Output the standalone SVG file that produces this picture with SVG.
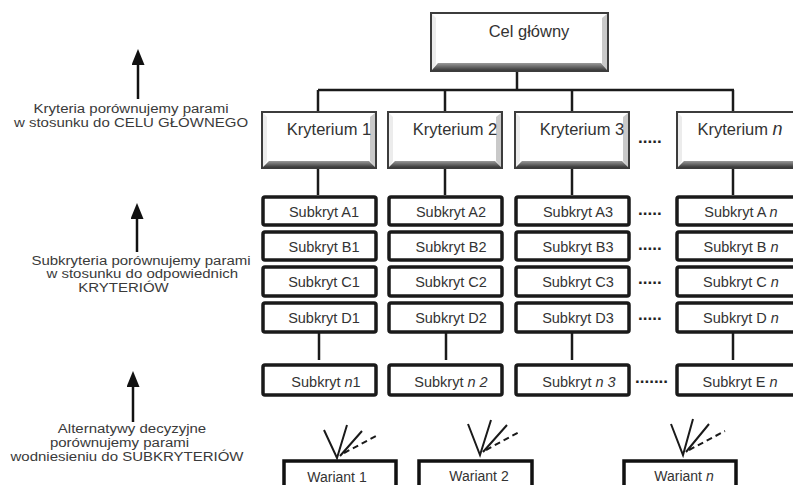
<svg xmlns="http://www.w3.org/2000/svg" width="793" height="485" viewBox="0 0 793 485">
  <defs>
    <linearGradient id="bevelBottom" x1="0" y1="0" x2="0" y2="1">
      <stop offset="0" stop-color="#9a9a9a"/>
      <stop offset="1" stop-color="#3e3e3e"/>
    </linearGradient>
    <marker id="arrowHead" viewBox="0 0 16 13" refX="1" refY="6.5" markerWidth="16" markerHeight="13" markerUnits="userSpaceOnUse" orient="auto">
      <path d="M0,0 L16,6.5 L0,13 Z" fill="#111"/>
    </marker>
    <style>
      text { font-family: "Liberation Sans", Arial, sans-serif; fill: #333; }
      .title { font-size: 16.5px; }
      .krit { font-size: 16.5px; text-anchor: middle; }
      .sub { font-size: 14.5px; text-anchor: middle; }
      .war { font-size: 14px; text-anchor: middle; }
      .side { font-size: 12px; text-anchor: middle; fill: #3a3a3a; }
      .dots { font-size: 17px; font-weight: bold; fill: #222; }
      .bevel-frame { fill: #fff; stroke: #3c3c3c; stroke-width: 2; }
      .bevel-left { fill: #ececec; }
      .bevel-right { fill: #c9c9c9; }
      .bevel-bottom { fill: url(#bevelBottom); }
      .subbox { fill: #fff; stroke: #1a1a1a; stroke-width: 3.5; }
      .varbox { fill: none; stroke: #111; stroke-width: 3.5; }
      .conn { stroke: #1a1a1a; stroke-width: 2.5; fill: none; }
      .fan { stroke: #1a1a1a; stroke-width: 2; fill: none; }
      .fan-dash { stroke: #1a1a1a; stroke-width: 2; fill: none; stroke-dasharray: 6 4; }
      .side-arrow { stroke: #111; stroke-width: 2.5; fill: none; }
      .it { font-style: italic; }
    </style>
  </defs>

  <rect width="793" height="485" fill="#fff"/>

  <!-- connectors of the hierarchy -->
  <g id="connectors">
    <line class="conn" x1="517" y1="71" x2="517" y2="90"/>
    <line class="conn" x1="318" y1="90" x2="734" y2="90"/>
    <line class="conn" x1="318" y1="90" x2="318" y2="111"/>
    <line class="conn" x1="445" y1="90" x2="445" y2="111"/>
    <line class="conn" x1="572" y1="90" x2="572" y2="111"/>
    <line class="conn" x1="733" y1="90" x2="733" y2="111"/>
    <line class="conn" x1="318" y1="169" x2="318" y2="195"/>
    <line class="conn" x1="445" y1="169" x2="445" y2="195"/>
    <line class="conn" x1="572" y1="169" x2="572" y2="195"/>
    <line class="conn" x1="733" y1="169" x2="733" y2="195"/>
    <line class="conn" x1="319" y1="333" x2="319" y2="360"/>
    <line class="conn" x1="446" y1="333" x2="446" y2="360"/>
    <line class="conn" x1="572" y1="333" x2="572" y2="360"/>
    <line class="conn" x1="733" y1="333" x2="733" y2="360"/>
  </g>

  <!-- goal -->
  <g id="cel-glowny">
    <rect class="bevel-frame" x="431" y="13" width="177" height="58"/>
    <polygon class="bevel-left" points="432,14 436,18 436,64 432,70"/>
    <polygon class="bevel-right" points="607,14 602,18 602,64 607,70"/>
    <polygon class="bevel-bottom" points="432,70 438,63 601,63 607,70"/>
    <text class="title" x="529" y="37" text-anchor="middle">Cel główny</text>
  </g>

  <!-- criteria -->
  <g id="kryterium-1" transform="translate(262,112)">
    <rect class="bevel-frame" x="0" y="0" width="114" height="56"/>
    <polygon class="bevel-left" points="1,1 5,5 5,49 1,55"/>
    <polygon class="bevel-right" points="113,1 108,5 108,49 113,55"/>
    <polygon class="bevel-bottom" points="1,55 7,49 107,49 113,55"/>
    <text class="krit" x="67" y="23">Kryterium 1</text>
  </g>
  <g id="kryterium-2" transform="translate(388,112)">
    <rect class="bevel-frame" x="0" y="0" width="114" height="56"/>
    <polygon class="bevel-left" points="1,1 5,5 5,49 1,55"/>
    <polygon class="bevel-right" points="113,1 108,5 108,49 113,55"/>
    <polygon class="bevel-bottom" points="1,55 7,49 107,49 113,55"/>
    <text class="krit" x="67" y="23">Kryterium 2</text>
  </g>
  <g id="kryterium-3" transform="translate(515,112)">
    <rect class="bevel-frame" x="0" y="0" width="114" height="56"/>
    <polygon class="bevel-left" points="1,1 5,5 5,49 1,55"/>
    <polygon class="bevel-right" points="113,1 108,5 108,49 113,55"/>
    <polygon class="bevel-bottom" points="1,55 7,49 107,49 113,55"/>
    <text class="krit" x="67" y="23">Kryterium 3</text>
  </g>
  <text class="dots" x="638" y="143">.....</text>
  <g id="kryterium-n" transform="translate(677,112)">
    <rect class="bevel-frame" x="0" y="0" width="122" height="56"/>
    <polygon class="bevel-left" points="1,1 5,5 5,49 1,55"/>
    <polygon class="bevel-bottom" points="1,55 7,49 122,49 122,55"/>
    <text class="krit" x="63" y="23">Kryterium <tspan class="it" font-size="18">n</tspan></text>
  </g>

  <!-- sub-criteria, column 1 -->
  <g id="subkryt-a1"><rect class="subbox" x="263" y="197" width="113" height="28" rx="2"/><text class="sub" x="324" y="217">Subkryt A1</text></g>
  <g id="subkryt-b1"><rect class="subbox" x="263" y="232" width="113" height="28" rx="2"/><text class="sub" x="324" y="252">Subkryt B1</text></g>
  <g id="subkryt-c1"><rect class="subbox" x="263" y="267" width="113" height="29" rx="2"/><text class="sub" x="324" y="287">Subkryt C1</text></g>
  <g id="subkryt-d1"><rect class="subbox" x="263" y="303" width="113" height="29" rx="2"/><text class="sub" x="324" y="323">Subkryt D1</text></g>

  <!-- sub-criteria, column 2 -->
  <g id="subkryt-a2"><rect class="subbox" x="389" y="197" width="113" height="28" rx="2"/><text class="sub" x="451" y="217">Subkryt A2</text></g>
  <g id="subkryt-b2"><rect class="subbox" x="389" y="232" width="113" height="28" rx="2"/><text class="sub" x="451" y="252">Subkryt B2</text></g>
  <g id="subkryt-c2"><rect class="subbox" x="389" y="267" width="113" height="29" rx="2"/><text class="sub" x="451" y="287">Subkryt C2</text></g>
  <g id="subkryt-d2"><rect class="subbox" x="389" y="303" width="113" height="29" rx="2"/><text class="sub" x="451" y="323">Subkryt D2</text></g>

  <!-- sub-criteria, column 3 -->
  <g id="subkryt-a3"><rect class="subbox" x="516" y="197" width="113" height="28" rx="2"/><text class="sub" x="578" y="217">Subkryt A3</text></g>
  <g id="subkryt-b3"><rect class="subbox" x="516" y="232" width="113" height="28" rx="2"/><text class="sub" x="578" y="252">Subkryt B3</text></g>
  <g id="subkryt-c3"><rect class="subbox" x="516" y="267" width="113" height="29" rx="2"/><text class="sub" x="578" y="287">Subkryt C3</text></g>
  <g id="subkryt-d3"><rect class="subbox" x="516" y="303" width="113" height="29" rx="2"/><text class="sub" x="578" y="323">Subkryt D3</text></g>

  <!-- ellipsis between column 3 and column n -->
  <text class="dots" x="638" y="215">.....</text>
  <text class="dots" x="638" y="250">.....</text>
  <text class="dots" x="638" y="284">.....</text>
  <text class="dots" x="638" y="320">.....</text>

  <!-- sub-criteria, column n -->
  <g id="subkryt-an"><rect class="subbox" x="677" y="197" width="122" height="28" rx="2"/><text class="sub" x="741" y="217">Subkryt A <tspan class="it">n</tspan></text></g>
  <g id="subkryt-bn"><rect class="subbox" x="677" y="232" width="122" height="28" rx="2"/><text class="sub" x="741" y="252">Subkryt B <tspan class="it">n</tspan></text></g>
  <g id="subkryt-cn"><rect class="subbox" x="677" y="267" width="122" height="29" rx="2"/><text class="sub" x="741" y="287">Subkryt C <tspan class="it">n</tspan></text></g>
  <g id="subkryt-dn"><rect class="subbox" x="677" y="303" width="122" height="29" rx="2"/><text class="sub" x="741" y="323">Subkryt D <tspan class="it">n</tspan></text></g>

  <!-- last sub-criteria row -->
  <g id="subkryt-n1"><rect class="subbox" x="263" y="365" width="113" height="30" rx="2"/><text class="sub" x="326" y="387">Subkryt <tspan class="it">n</tspan>1</text></g>
  <g id="subkryt-n2"><rect class="subbox" x="389" y="365" width="113" height="30" rx="2"/><text class="sub" x="451" y="387">Subkryt <tspan class="it">n 2</tspan></text></g>
  <g id="subkryt-n3"><rect class="subbox" x="516" y="365" width="113" height="30" rx="2"/><text class="sub" x="579" y="387">Subkryt <tspan class="it">n 3</tspan></text></g>
  <text class="dots" x="635" y="383">.......</text>
  <g id="subkryt-en"><rect class="subbox" x="677" y="365" width="122" height="30" rx="2"/><text class="sub" x="740" y="387">Subkryt E <tspan class="it">n</tspan></text></g>

  <!-- alternatives with their links upward -->
  <g id="wariant-1">
    <path class="fan" d="M324,430 L337,458 L347,425 M362,431 L340,456"/>
    <path class="fan-dash" d="M344,453 L378,435"/>
    <path class="varbox" d="M284,490 V461 H396 V490"/>
    <text class="war" x="337" y="482">Wariant 1</text>
  </g>
  <g id="wariant-2">
    <path class="fan" d="M468,424 L480,455 L491,420 M507,425 L483,452"/>
    <path class="fan-dash" d="M486,450 L521,431"/>
    <path class="varbox" d="M419,490 V461 H532 V490"/>
    <text class="war" x="479" y="481">Wariant 2</text>
  </g>
  <g id="wariant-n">
    <path class="fan" d="M671,424 L683,455 L693,419 M709,424 L686,452"/>
    <path class="fan-dash" d="M689,450 L725,431"/>
    <path class="varbox" d="M624,490 V461 H736 V490"/>
    <text class="war" x="684" y="481">Wariant <tspan class="it">n</tspan></text>
  </g>

  <!-- level descriptions; text widened horizontally to keep the tight line spacing -->
  <g id="opis-kryteria">
    <line class="side-arrow" x1="138" y1="99" x2="138" y2="64" marker-end="url(#arrowHead)"/>
    <g transform="translate(131,0) scale(1.25,1)">
      <text class="side" x="0" y="113">Kryteria porównujemy parami</text>
      <text class="side" x="0" y="127">w stosunku do CELU GŁÓWNEGO</text>
    </g>
  </g>
  <g id="opis-subkryteria">
    <line class="side-arrow" x1="137" y1="252" x2="137" y2="218" marker-end="url(#arrowHead)"/>
    <g transform="translate(141,0) scale(1.25,1)">
      <text class="side" x="0" y="265">Subkryteria porównujemy parami</text>
      <text class="side" x="1" y="278">w stosunku do odpowiednich</text>
      <text class="side" x="-14" y="292">KRYTERIÓW</text>
    </g>
  </g>
  <g id="opis-warianty">
    <line class="side-arrow" x1="133" y1="422" x2="133" y2="386" marker-end="url(#arrowHead)"/>
    <g transform="translate(127,0) scale(1.25,1)">
      <text class="side" x="4" y="433">Alternatywy decyzyjne</text>
      <text class="side" x="-6" y="447">porównujemy parami</text>
      <text class="side" x="0" y="461">wodniesieniu do SUBKRYTERIÓW</text>
    </g>
  </g>
</svg>
